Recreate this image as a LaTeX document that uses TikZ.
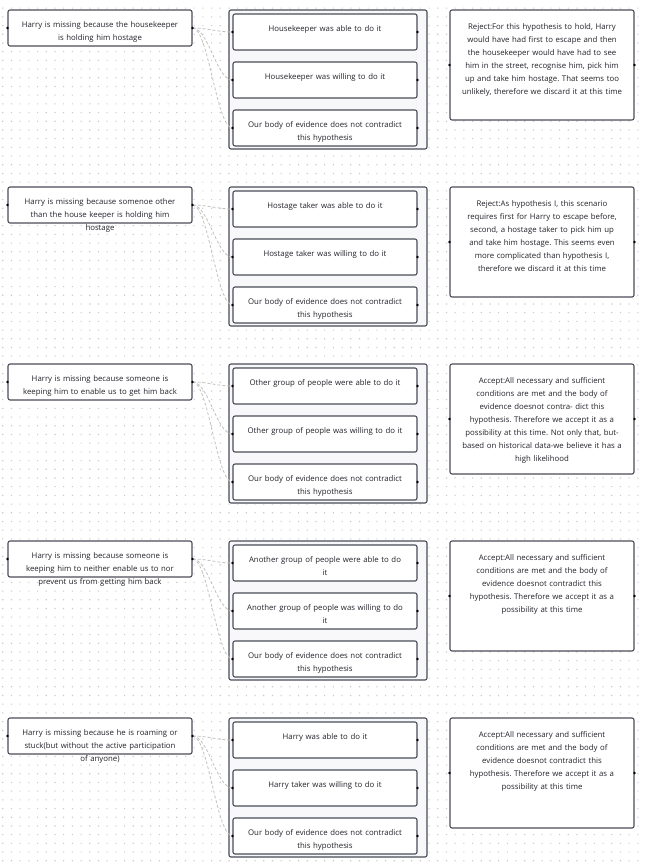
\documentclass[tikz,border=0pt]{standalone}
\usepackage{fontspec}
\setmainfont{Open Sans}
\frenchspacing
\definecolor{boxline}{HTML}{4A4C58}
\definecolor{ink}{HTML}{22222A}
\definecolor{linkgray}{HTML}{C2C2C2}
\definecolor{gridgray}{HTML}{C9C9CC}
\definecolor{panel}{HTML}{F8F8FA}
\tikzset{
  every node/.style={font=\fontsize{7.8}{13}\selectfont, text=ink},
  hyp/.style={draw=boxline, line width=1.1pt, fill=white, rounded corners=2pt,
    minimum width=184pt, text width=180pt, align=center, inner xsep=2pt, inner ysep=0pt,
    text height=17pt, text depth=19pt},
  cond/.style={hyp},
  verdict/.style={hyp, text height=19.5pt, text depth=90.5pt},
  panelbox/.style={draw=boxline, line width=1.1pt, fill=panel, rounded corners=2pt,
    minimum width=198pt, minimum height=139pt, inner sep=0pt},
  link/.style={draw=linkgray, line width=0.8pt, dash pattern=on 3pt off 2pt,
    to path={.. controls +(16,0) and +(-16,0) .. (\tikztotarget)}}
}
\begin{document}
\begin{tikzpicture}[x=1pt, y=-1pt]
      \useasboundingbox (0,0) rectangle (645,868);
      \fill[white] (0,0) rectangle (645,868);
      \foreach \j in {0,...,99}
        \fill[gridgray] \foreach \i in {0,...,73} {(2.2+8.7*\i, 7.6+8.7*\j) rectangle +(1.1,1.1)};
      \draw
        (328,79.5) node[panelbox] (c1){}
        (328,256.5) node[panelbox] (c2){}
        (328,433.5) node[panelbox] (c3){}
        (328,610.5) node[panelbox] (c4){}
        (328,787.5) node[panelbox] (c5){};
      \draw
        (100,28) node[hyp] (h1){Harry is missing because the housekeeper\\is holding him hostage}
        (325,32) node[cond] (a1){Housekeeper was able to do it}
        (325,80) node[cond] (w1){Housekeeper was willing to do it}
        (325,128) node[cond] (e1){Our body of evidence does not contradict\\this hypothesis}
        (542,65) node[verdict] (r1){Reject:For this hypothesis to hold, Harry\\would have had first to escape and then\\the housekeeper would have had to see\\him in the street, recognise him, pick him\\up and take him hostage. That seems too\\unlikely, therefore we discard it at this time};
      \draw
        (100,205) node[hyp] (h2){Harry is missing because somenoe other\\than the house keeper is holding him\\hostage}
        (325,209) node[cond] (a2){Hostage taker was able to do it}
        (325,257) node[cond] (w2){Hostage taker was willing to do it}
        (325,305) node[cond] (e2){Our body of evidence does not contradict\\this hypothesis}
        (542,242) node[verdict] (r2){Reject:As hypothesis I, this scenario\\requires first for Harry to escape before,\\second, a hostage taker to pick him up\\and take him hostage. This seems even\\more complicated than hypothesis I,\\therefore we discard it at this time};
      \draw
        (100,382) node[hyp] (h3){Harry is missing because someone is\\keeping him to enable us to get him back}
        (325,386) node[cond] (a3){Other group of people were able to do it}
        (325,434) node[cond] (w3){Other group of people was willing to do it}
        (325,482) node[cond] (e3){Our body of evidence does not contradict\\this hypothesis}
        (542,419) node[verdict] (r3){Accept:All necessary and sufficient\\conditions are met and the body of\\evidence doesnot contra- dict this\\hypothesis. Therefore we accept it as a\\possibility at this time. Not only that, but-\\based on historical data-we believe it has a\\high likelihood};
      \draw
        (100,559) node[hyp] (h4){Harry is missing because someone is\\keeping him to neither enable us to nor\\prevent us from getting him back}
        (325,563) node[cond] (a4){Another group of people were able to do\\it}
        (325,611) node[cond] (w4){Another group of people was willing to do\\it}
        (325,659) node[cond] (e4){Our body of evidence does not contradict\\this hypothesis}
        (542,596) node[verdict] (r4){Accept:All necessary and sufficient\\conditions are met and the body of\\evidence doesnot contradict this\\hypothesis. Therefore we accept it as a\\possibility at this time};
      \draw
        (100,736) node[hyp] (h5){Harry is missing because he is roaming or\\stuck(but without the active participation\\of anyone)}
        (325,740) node[cond] (a5){Harry was able to do it}
        (325,788) node[cond] (w5){Harry taker was willing to do it}
        (325,836) node[cond] (e5){Our body of evidence does not contradict\\this hypothesis}
        (542,773) node[verdict] (r5){Accept:All necessary and sufficient\\conditions are met and the body of\\evidence doesnot contradict this\\hypothesis. Therefore we accept it as a\\possibility at this time};
      \begin{scope}[link]
        \draw (h1.east) to (a1.west);
        \draw (h1.east) to (w1.west);
        \draw (h1.east) to (e1.west);
        \draw (h2.east) to (a2.west);
        \draw (h2.east) to (w2.west);
        \draw (h2.east) to (e2.west);
        \draw (h3.east) to (a3.west);
        \draw (h3.east) to (w3.west);
        \draw (h3.east) to (e3.west);
        \draw (h4.east) to (a4.west);
        \draw (h4.east) to (w4.west);
        \draw (h4.east) to (e4.west);
        \draw (h5.east) to (a5.west);
        \draw (h5.east) to (w5.west);
        \draw (h5.east) to (e5.west);
      \end{scope}
      \foreach \n in {h1,a1,w1,e1,r1,h2,a2,w2,e2,r2,h3,a3,w3,e3,r3,h4,a4,w4,e4,r4,h5,a5,w5,e5,r5}
        \fill[black] (\n.west) circle (1.4pt) (\n.east) circle (1.4pt);
    \end{tikzpicture}
\end{document}
